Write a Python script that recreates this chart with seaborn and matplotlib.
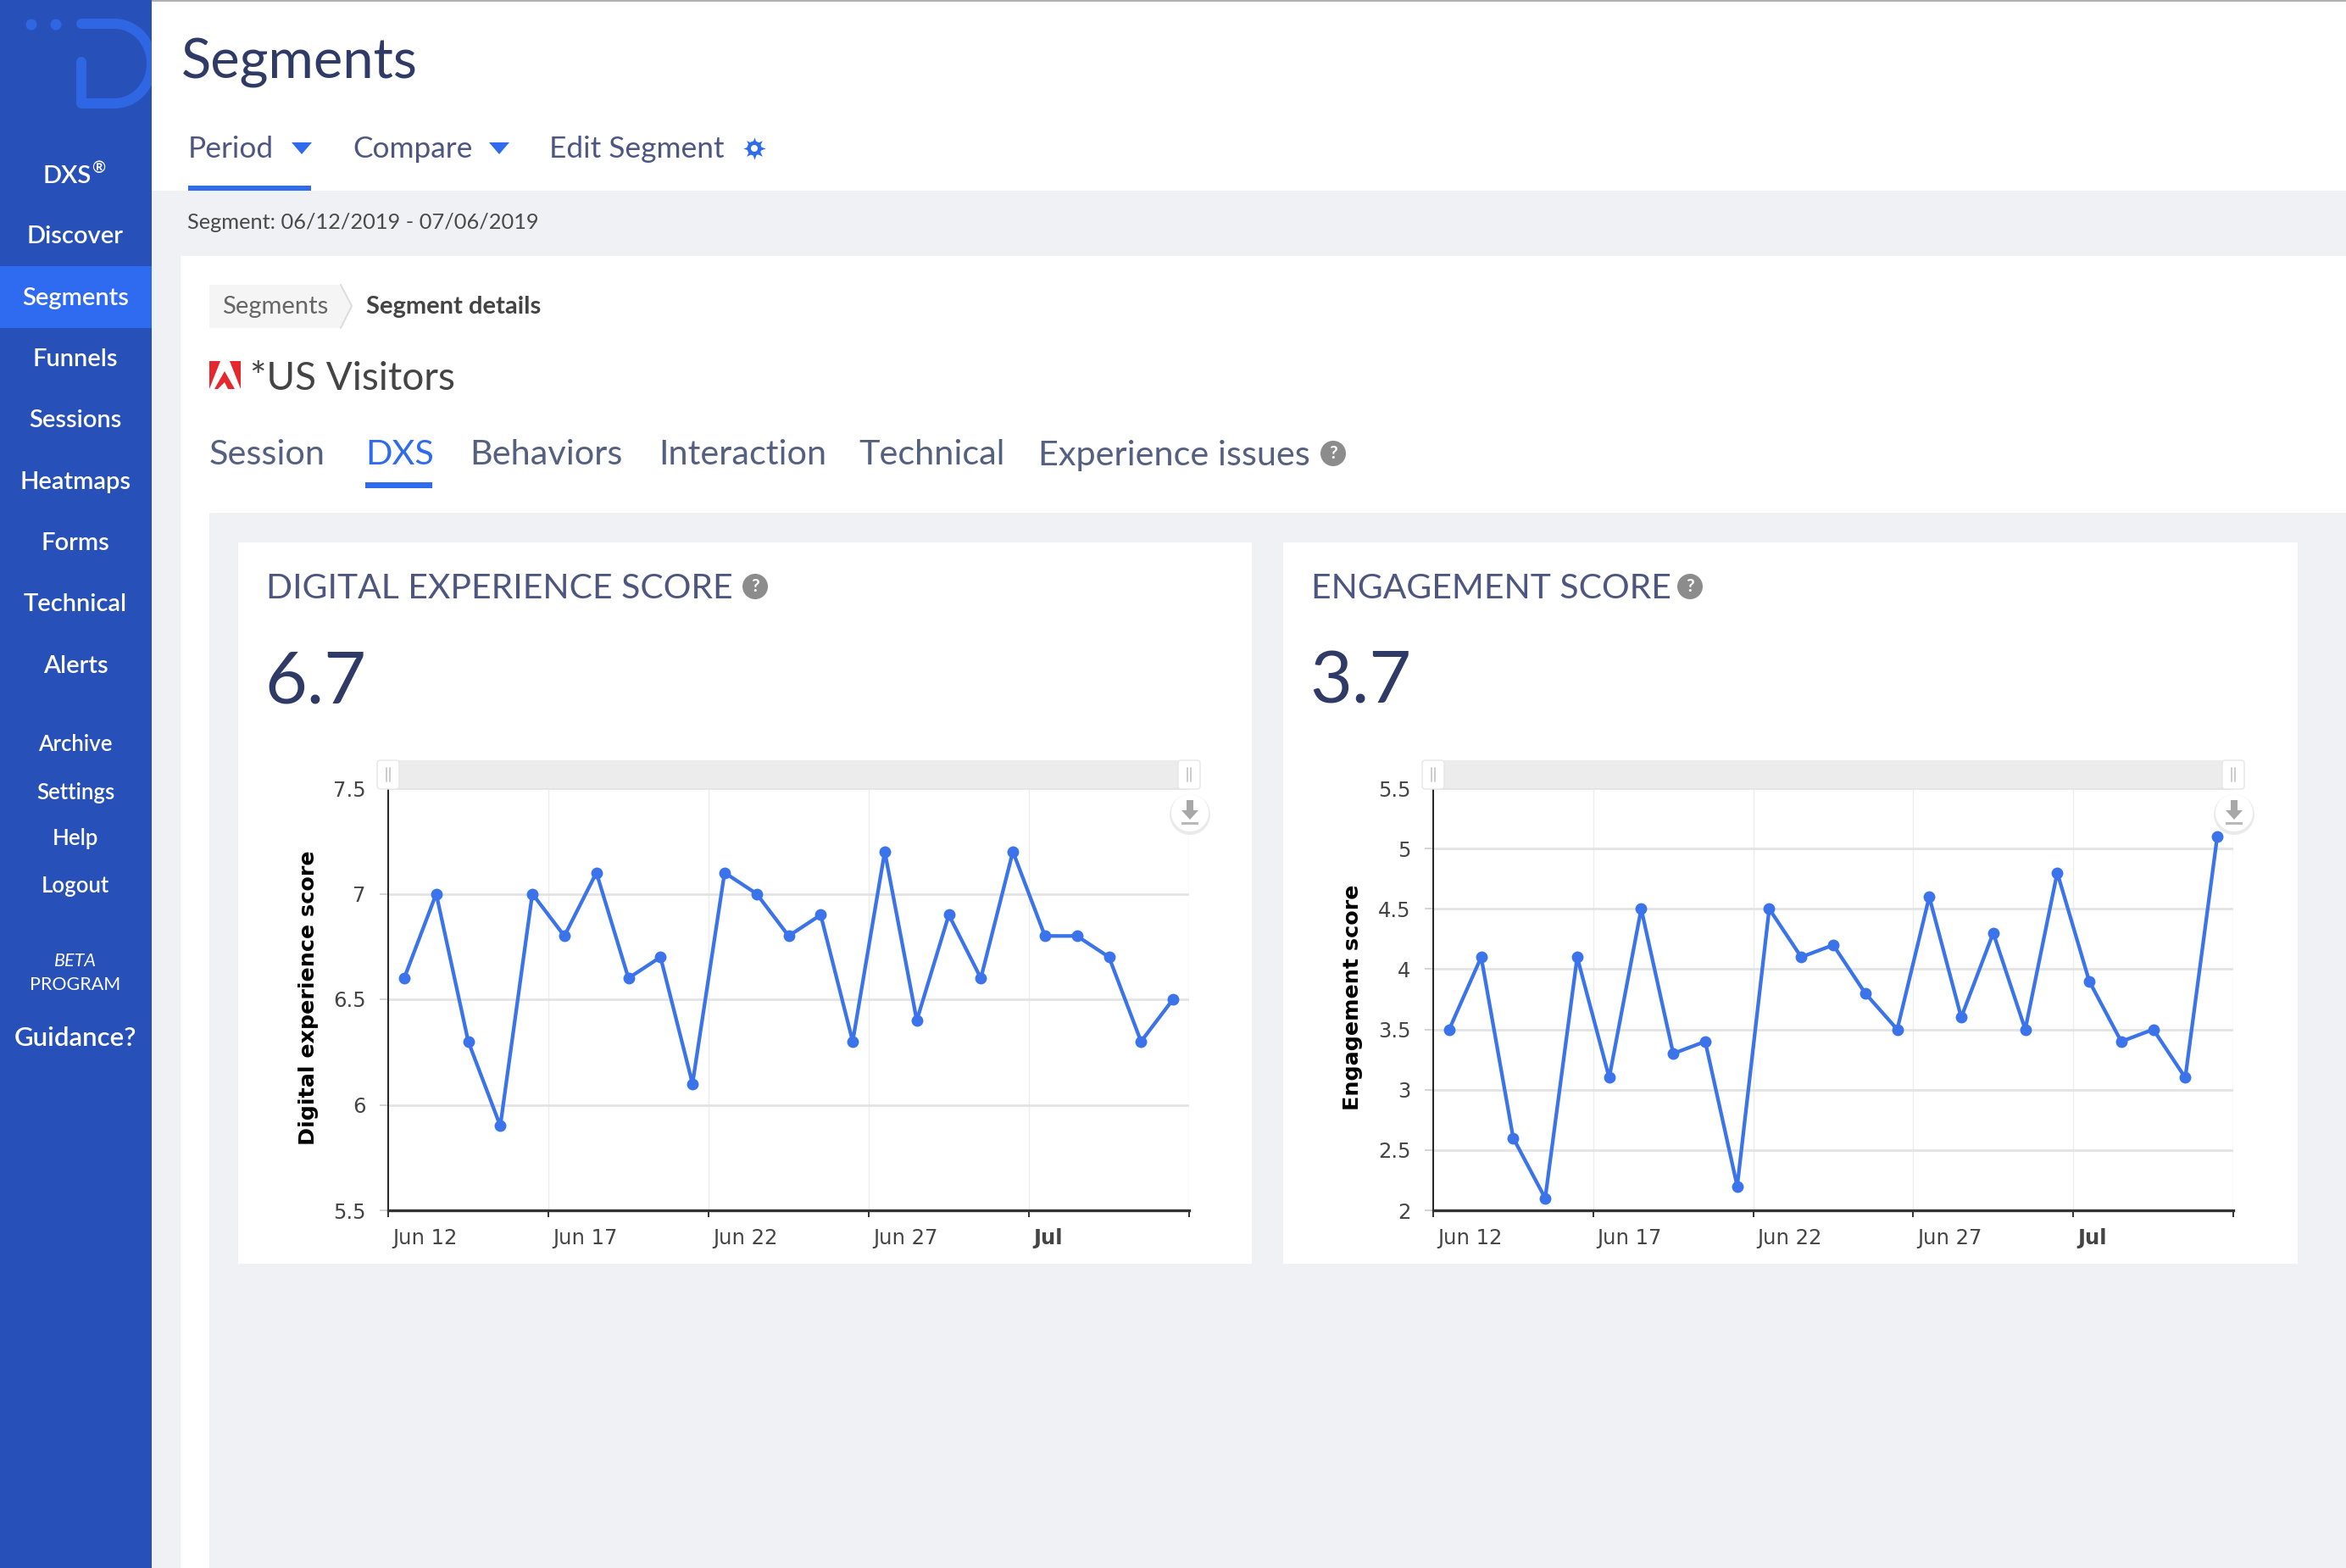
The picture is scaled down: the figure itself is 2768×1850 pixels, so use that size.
import numpy as np
import pandas as pd
import matplotlib
matplotlib.use("Agg")
import matplotlib.pyplot as plt
from matplotlib.patches import Rectangle, Polygon, Circle, FancyBboxPatch
from matplotlib.transforms import ScaledTranslation
import seaborn as sns

W, H = 2768, 1850

# chart data, one point per day
days = pd.date_range("2019-06-12", "2019-07-06") + pd.Timedelta(hours=12)
dxs_scores = [6.6, 7.0, 6.3, 5.9, 7.0, 6.8, 7.1, 6.6, 6.7, 6.1, 7.1, 7.0, 6.8,
              6.9, 6.3, 7.2, 6.4, 6.9, 6.6, 7.2, 6.8, 6.8, 6.7, 6.3, 6.5]
engagement_scores = [3.5, 4.1, 2.6, 2.1, 4.1, 3.1, 4.5, 3.3, 3.4, 2.2, 4.5, 4.1, 4.2,
                     3.8, 3.5, 4.6, 3.6, 4.3, 3.5, 4.8, 3.9, 3.4, 3.5, 3.1, 5.1]
x_ticks = pd.to_datetime(["2019-06-12", "2019-06-17", "2019-06-22", "2019-06-27", "2019-07-02", "2019-07-07"])
x_tick_labels = ["Jun 12", "Jun 17", "Jun 22", "Jun 27", "Jul", ""]
dxs_ticks = [5.5, 6, 6.5, 7, 7.5]
dxs_tick_labels = ["5.5", "6", "6.5", "7", "7.5"]
eng_ticks = [2, 2.5, 3, 3.5, 4, 4.5, 5, 5.5]
eng_tick_labels = ["2", "2.5", "3", "3.5", "4", "4.5", "5", "5.5"]

# page text
nav_main = ["Discover", "Segments", "Funnels", "Sessions", "Heatmaps", "Forms", "Technical", "Alerts"]
nav_small = ["Archive", "Settings", "Help", "Logout"]
page_tabs = ["Session", "DXS", "Behaviors", "Interaction", "Technical", "Experience issues"]

BLUE = "#2f6bed"
LINE = "#3b74ea"
SIDE = "#2751b8"
BG = "#f0f1f5"
NAVY = "#2f3a66"
SLATE = "#4d5680"


def make_overlay(zorder):
    ax = fig.add_axes([0, 0, 1, 1], zorder=zorder)
    ax.set_xlim(0, W)
    ax.set_ylim(H, 0)
    ax.axis("off")
    ax.patch.set_alpha(0)
    return ax


def box(ax, x0, y0, x1, y1, color, **kw):
    return ax.add_patch(Rectangle((x0, y0), x1 - x0, y1 - y0, facecolor=color, edgecolor="none", **kw))


def label(ax, x, y, s, size, color, ha="left", **kw):
    ax.text(x, y + 2, s, fontsize=size, color=color, ha=ha, va="center", **kw)


def help_icon(ax, x, y):
    ax.add_patch(Circle((x, y), 15, facecolor="#8c8c8c", edgecolor="none"))
    ax.text(x, y, "?", fontsize=15, color="white", ha="center", va="center", fontweight="bold")


def draw_page(ax):
    box(ax, 0, 0, W, H, "white")
    box(ax, 179, 225, W, H, BG)
    box(ax, 179, 0, W, 2, "#b0b0b0")
    box(ax, 213, 302, W, H, "white")
    box(ax, 247, 605, W, H, BG)

    # sidebar
    side = box(ax, 0, 0, 179, H, SIDE)
    box(ax, 0, 314, 179, 387, "#2f6bf0")
    logo = "#2f66e4"
    ax.add_patch(Circle((37, 29), 6.5, facecolor=logo, edgecolor="none"))
    ax.add_patch(Circle((66, 29), 6.5, facecolor=logo, edgecolor="none"))
    t = np.linspace(-np.pi / 2, np.pi / 2, 40)
    xs = np.r_[96, 135, 135 + 44 * np.cos(t), 135, 96, 96]
    ys = np.r_[28, 28, 75 + 47 * np.sin(t), 122, 122, 73]
    logo_line, = ax.plot(xs, ys, color=logo, lw=8.6, solid_capstyle="round", solid_joinstyle="round")
    logo_line.set_clip_path(side)

    label(ax, 108, 206, "DXS", 21, "white", ha="right", fontweight="semibold")
    label(ax, 108, 197, "®", 14, "white", fontweight="semibold")
    for name, y in zip(nav_main, [277, 350, 422, 494, 567, 639, 711, 784]):
        label(ax, 89, y, name, 21, "white", ha="center", fontweight="semibold")
    for name, y in zip(nav_small, [877, 933, 988, 1044]):
        label(ax, 89, y, name, 18.5, "white", ha="center", fontweight="semibold")
    label(ax, 89, 1132, "BETA", 15.5, "white", ha="center", style="italic")
    label(ax, 89, 1160, "PROGRAM", 15.5, "white", ha="center")
    label(ax, 89, 1223, "Guidance?", 22.5, "white", ha="center", fontweight="semibold")

    # header
    label(ax, 214, 72, "Segments", 46.8, NAVY)
    label(ax, 222, 174, "Period", 25.4, SLATE)
    label(ax, 416, 174, "Compare", 25.4, SLATE)
    label(ax, 648, 174, "Edit Segment", 25.4, SLATE)
    for cx in (356, 589):
        ax.add_patch(Polygon([(cx - 12, 168), (cx + 12, 168), (cx, 182)], facecolor=BLUE, edgecolor="none"))
    ax.plot([890], [175], marker=(8, 1, 0), ms=19, color=BLUE, mew=0)
    ax.add_patch(Circle((890, 175), 8.5, facecolor=BLUE, edgecolor="none", zorder=4))
    ax.add_patch(Circle((890, 175), 4, facecolor="white", edgecolor="none", zorder=5))
    box(ax, 222, 219, 367, 225, BLUE)
    label(ax, 221, 261, "Segment: 06/12/2019 - 07/06/2019", 18.3, "#4a4a4a")

    # breadcrumb
    ax.add_patch(Polygon([(247, 336), (402, 336), (415, 361), (402, 387), (247, 387)],
                         facecolor="#f5f5f5", edgecolor="none"))
    ax.plot([402, 415, 402], [336, 361, 387], color="#dddddd", lw=1.5)
    label(ax, 325, 360, "Segments", 21, "#666666", ha="center")
    label(ax, 432, 360, "Segment details", 21, "#444444", fontweight="bold")

    # adobe mark and segment name
    red = "#e5282e"
    ax.add_patch(Polygon([(247, 426), (260, 426), (247, 459)], facecolor=red, edgecolor="none"))
    ax.add_patch(Polygon([(271, 426), (284, 426), (284, 459)], facecolor=red, edgecolor="none"))
    ax.add_patch(Polygon([(265, 438), (277, 459), (269, 459), (265, 451), (257, 459), (253, 459)],
                         facecolor=red, edgecolor="none"))
    label(ax, 295, 445, "*US Visitors", 33, "#444444")

    # tabs
    for name, x in zip(page_tabs, [247, 431, 554, 777, 1013, 1225]):
        label(ax, x, 535, name, 29.8, BLUE if name == "DXS" else "#555f80")
    box(ax, 431, 569, 510, 576, BLUE)
    help_icon(ax, 1573, 535)

    # cards
    for x0, x1, title, value, help_x in [(281, 1477, "DIGITAL EXPERIENCE SCORE", "6.7", 891),
                                         (1514, 2711, "ENGAGEMENT SCORE", "3.7", 1994)]:
        box(ax, x0, 640, x1, 1491, "white")
        label(ax, x0 + 33, 692, title, 29.4, SLATE)
        label(ax, x0 + 31, 803, value, 62, NAVY)
        help_icon(ax, help_x, 692)


def draw_chart(rect, values, yticks, ylabels, ytitle, title_x):
    x0, x1 = rect
    y0, y1 = 930, 1428
    ax = fig.add_axes([x0 / W, 1 - y1 / H, (x1 - x0) / W, (y1 - y0) / H], zorder=1)
    ax.patch.set_alpha(0)
    df = pd.DataFrame({"day": days, "score": values})
    sns.lineplot(data=df, x="day", y="score", ax=ax, color=LINE, linewidth=3.1,
                 marker="o", markersize=10, markeredgewidth=0, errorbar=None, clip_on=False, zorder=3)
    ax.set_xlim(x_ticks[0], x_ticks[-1])
    ax.set_ylim(yticks[0], yticks[-1])
    ax.set_xticks(x_ticks)
    ax.set_xticklabels(x_tick_labels, fontsize=17.5, color="#444444", ha="left", family="DejaVu Sans")
    ax.set_yticks(yticks)
    ax.set_yticklabels(ylabels, fontsize=17.5, color="#444444", family="DejaVu Sans")
    ax.get_xticklabels()[4].set_fontweight("bold")
    ax.tick_params(axis="x", length=6, width=1.4, color="#333333", pad=9, bottom=True)
    ax.tick_params(axis="y", length=7, width=1.2, color="#cccccc", pad=12, left=True)
    ax.grid(axis="y", color="#e3e3e3", lw=2)
    ax.grid(axis="x", color="#ececec", lw=1)
    ax.set_axisbelow(True)
    for side in ("top", "right"):
        ax.spines[side].set_visible(False)
    ax.spines["left"].set_color("#222222")
    ax.spines["left"].set_linewidth(1.4)
    ax.spines["bottom"].set_color("#333333")
    ax.spines["bottom"].set_linewidth(2.4)
    ax.set_xlabel("")
    ax.set_ylabel("")
    # labels start just right of their tick
    shift = ScaledTranslation(3.5 / 72, 0, fig.dpi_scale_trans)
    for tick in ax.get_xticklabels():
        tick.set_transform(tick.get_transform() + shift)
    overlay.text(title_x, 1177, ytitle, rotation=90, fontsize=18.3, fontweight="bold",
                 color="black", ha="center", va="center", family="DejaVu Sans")

    # range slider strip above the plot and the export button
    box(page, x0, 897, x1, 931, "#ececec")
    for hx in (x0, x1):
        overlay.add_patch(FancyBboxPatch((hx - 10, 900), 20, 28, boxstyle="round,pad=3,rounding_size=4",
                                         facecolor="white", edgecolor="#e6e6e6", lw=1))
        overlay.plot([hx - 2, hx - 2], [906, 922], color="#c8c8c8", lw=1.3)
        overlay.plot([hx + 2, hx + 2], [906, 922], color="#c8c8c8", lw=1.3)
    bx, by = x1 + 1, 959
    overlay.add_patch(Circle((bx, by + 2), 24, facecolor="#dddddd", edgecolor="none", alpha=0.6))
    overlay.add_patch(Circle((bx, by), 22, facecolor="white", edgecolor="none"))
    overlay.add_patch(Polygon([(bx - 4, by - 15), (bx + 4, by - 15), (bx + 4, by - 3), (bx + 10, by - 3),
                               (bx, by + 8), (bx - 10, by - 3), (bx - 4, by - 3)],
                              facecolor="#a8a8a8", edgecolor="none"))
    box(overlay, bx - 10, by + 11, bx + 10, by + 14, "#b8b8b8")
    return ax


sns.set_theme(style="whitegrid")
plt.rcParams["font.family"] = ["Lato", "DejaVu Sans"]

fig = plt.figure(figsize=(W / 100, H / 100), dpi=100)
page = make_overlay(0)
overlay = make_overlay(2)
draw_page(page)

draw_chart((458, 1403), dxs_scores, dxs_ticks, dxs_tick_labels, "Digital experience score", 364)
draw_chart((1691, 2635), engagement_scores, eng_ticks, eng_tick_labels, "Engagement score", 1596)

fig.savefig("out.png", dpi=100)
plt.close(fig)
